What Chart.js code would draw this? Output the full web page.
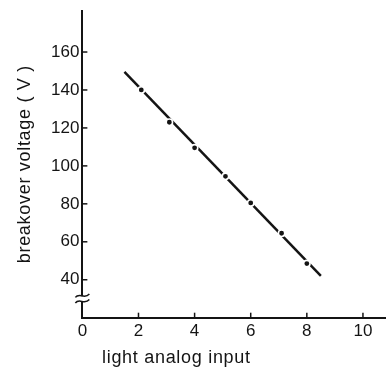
<!DOCTYPE html>
<html>
<head>
<meta charset="utf-8">
<script src="https://cdn.jsdelivr.net/npm/chart.js@4.4.0/dist/chart.umd.min.js"></script>
<style>
  html, body { margin: 0; padding: 0; background: #fff; }
  #wrap { width: 391px; height: 368px; }
</style>
</head>
<body>
<div id="wrap"><canvas id="plot" width="391" height="368"></canvas></div>
<script>
// measured points
const lightInput = [2.1, 3.1, 4.0, 5.1, 6.0, 7.1, 8.0];
const breakoverVoltage = [140, 123, 109.5, 94.5, 80.5, 64.5, 48.5];
// straight line drawn through them
const fitInput = [1.5, 8.5];
const fitVoltage = [149.5, 42];
// axis ticks
const xTickValues = [0, 2, 4, 6, 8, 10];
const yTickValues = [40, 60, 80, 100, 120, 140, 160];
const xTitle = 'light analog input';
const yTitle = 'breakover voltage ( V )';

const ink = '#141414';

const decor = {
  id: 'decor',
  afterDraw(chart) {
    const ctx = chart.ctx;
    const x = chart.scales.x, y = chart.scales.y;
    ctx.save();
    ctx.strokeStyle = ink;
    ctx.lineWidth = 1.5;
    // inward tick marks
    xTickValues.forEach(v => {
      if (v === 0) return;
      const px = x.getPixelForValue(v);
      ctx.beginPath(); ctx.moveTo(px, y.bottom); ctx.lineTo(px, y.bottom - 5); ctx.stroke();
    });
    yTickValues.forEach(v => {
      const py = y.getPixelForValue(v);
      ctx.beginPath(); ctx.moveTo(x.left, py); ctx.lineTo(x.left + 5, py); ctx.stroke();
    });
    // axis break
    const by = y.getPixelForValue(30);
    const bx = x.left;
    ctx.fillStyle = '#fff';
    ctx.fillRect(bx - 3, by - 2.5, 6, 5);
    [-2.8, 2.8].forEach(d => {
      ctx.beginPath();
      ctx.moveTo(bx - 7, by + d + 1.5);
      ctx.bezierCurveTo(bx - 3, by + d - 4, bx + 2, by + d + 4, bx + 7, by + d - 2);
      ctx.stroke();
    });
    // titles
    ctx.fillStyle = ink;
    ctx.font = '18px "Liberation Sans", Arial, sans-serif';
    ctx.letterSpacing = '0.7px';
    ctx.textAlign = 'left';
    ctx.textBaseline = 'alphabetic';
    ctx.fillText(xTitle, x.getPixelForValue(0.7), y.bottom + 45);
    ctx.translate(x.left - 52, (y.top + y.bottom) / 2);
    ctx.rotate(-Math.PI / 2);
    ctx.textAlign = 'center';
    ctx.fillText(yTitle, 0, 0);
    ctx.restore();
  }
};

const tickFont = { family: '"Liberation Sans", Arial, sans-serif', size: 17, lineHeight: 0.9 };

new Chart(document.getElementById('plot'), {
  type: 'scatter',
  data: {
    datasets: [
      {
        data: lightInput.map((v, i) => ({ x: v, y: breakoverVoltage[i] })),
        showLine: false,
        pointRadius: 3.2,
        pointBorderWidth: 1.6,
        pointBackgroundColor: ink,
        pointBorderColor: '#fff'
      },
      {
        data: fitInput.map((v, i) => ({ x: v, y: fitVoltage[i] })),
        showLine: true,
        borderColor: ink,
        borderWidth: 2.5,
        pointRadius: 0
      }
    ]
  },
  options: {
    responsive: false,
    animation: false,
    layout: { padding: { left: 48, top: 8, right: 0, bottom: 23 } },
    plugins: { legend: { display: false }, tooltip: { enabled: false } },
    scales: {
      x: {
        type: 'linear',
        min: 0, max: 10.8,
        bounds: 'data',
        afterBuildTicks: s => { s.ticks = xTickValues.map(v => ({ value: v })); },
        grid: { display: false, drawTicks: false },
        border: { display: true, color: ink, width: 2 },
        ticks: { color: ink, font: tickFont, padding: 6, maxRotation: 0 }
      },
      y: {
        type: 'linear',
        min: 20, max: 181.8,
        bounds: 'data',
        afterBuildTicks: s => { s.ticks = yTickValues.map(v => ({ value: v })); },
        grid: { display: false, drawTicks: false },
        border: { display: true, color: ink, width: 2 },
        ticks: { color: ink, font: tickFont, padding: 3 }
      }
    }
  },
  plugins: [decor]
});
</script>
</body>
</html>
